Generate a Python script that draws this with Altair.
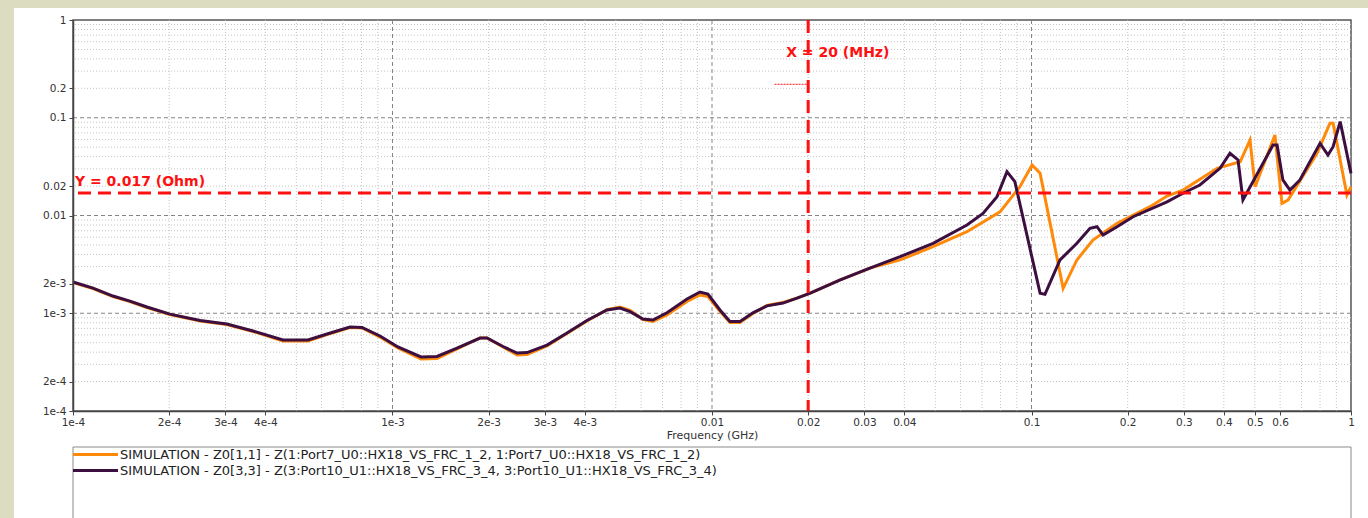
import altair as alt
import pandas as pd

# ---- impedance curves (frequency in GHz, |Z| in Ohm) ----
freq_low = [1.0e-4, 1.155e-4, 1.334e-4, 1.507e-4, 1.704e-4, 2.01e-4, 2.50e-4, 3.03e-4,
            3.66e-4, 4.54e-4, 5.44e-4, 6.24e-4, 7.36e-4, 8.03e-4, 9.14e-4, 1.04e-3,
            1.228e-3, 1.378e-3, 1.592e-3, 1.879e-3, 1.976e-3, 2.218e-3, 2.454e-3, 2.636e-3,
            3.045e-3, 3.516e-3, 4.06e-3, 4.69e-3, 5.15e-3, 5.54e-3, 6.08e-3, 6.53e-3,
            7.23e-3, 8.35e-3, 9.17e-3, 9.71e-3, 1.059e-2, 1.138e-2, 1.224e-2, 1.343e-2,
            1.486e-2, 1.668e-2, 1.845e-2, 2.03e-2, 2.52e-2, 3.12e-2]

z11_low = [2.06e-3, 1.79e-3, 1.48e-3, 1.32e-3, 1.145e-3, 9.7e-4, 8.33e-4, 7.67e-4,
           6.51e-4, 5.20e-4, 5.20e-4, 6.06e-4, 7.15e-4, 7.06e-4, 5.71e-4, 4.41e-4,
           3.40e-4, 3.44e-4, 4.31e-4, 5.58e-4, 5.58e-4, 4.52e-4, 3.74e-4, 3.78e-4,
           4.62e-4, 6.21e-4, 8.33e-4, 1.09e-3, 1.16e-3, 1.07e-3, 8.63e-4, 8.23e-4,
           9.6e-4, 1.32e-3, 1.54e-3, 1.48e-3, 1.05e-3, 8.04e-4, 8.04e-4, 9.94e-4,
           1.20e-3, 1.29e-3, 1.43e-3, 1.61e-3, 2.19e-3, 2.90e-3]

z33_low = [2.09e-3, 1.81e-3, 1.50e-3, 1.33e-3, 1.16e-3, 9.8e-4, 8.43e-4, 7.76e-4,
           6.58e-4, 5.33e-4, 5.33e-4, 6.14e-4, 7.23e-4, 7.16e-4, 5.85e-4, 4.52e-4,
           3.57e-4, 3.61e-4, 4.41e-4, 5.58e-4, 5.58e-4, 4.57e-4, 3.92e-4, 3.96e-4,
           4.73e-4, 6.28e-4, 8.43e-4, 1.08e-3, 1.13e-3, 1.04e-3, 8.73e-4, 8.53e-4,
           1.01e-3, 1.40e-3, 1.65e-3, 1.57e-3, 1.08e-3, 8.24e-4, 8.24e-4, 1.01e-3,
           1.19e-3, 1.27e-3, 1.43e-3, 1.61e-3, 2.19e-3, 2.90e-3]

freq11_high = [3.88e-2, 4.92e-2, 6.28e-2, 7.97e-2, 9.20e-2, 0.1004, 0.1064, 0.1256,
               0.1387, 0.1557, 0.1853, 0.235, 0.2655, 0.298, 0.381, 0.450, 0.483,
               0.501, 0.578, 0.608, 0.635, 0.783, 0.859, 0.879, 0.971, 1.0]
z11_high = [3.51e-3, 4.80e-3, 6.83e-3, 1.09e-2, 1.97e-2, 3.29e-2, 2.70e-2, 1.80e-3,
            3.51e-3, 5.61e-3, 8.32e-3, 1.23e-2, 1.58e-2, 1.82e-2, 3.04e-2, 3.55e-2, 5.92e-2,
            1.97e-2, 6.66e-2, 1.33e-2, 1.44e-2, 4.33e-2, 8.77e-2, 8.77e-2, 1.62e-2, 1.97e-2]

freq33_high = [3.88e-2, 4.92e-2, 6.28e-2, 7.05e-2, 7.80e-2, 8.38e-2, 8.87e-2, 0.1064,
               0.1102, 0.1228, 0.1387, 0.1524, 0.1603, 0.1675, 0.1853, 0.208, 0.2655,
               0.298, 0.3365, 0.389, 0.418, 0.443, 0.459, 0.570, 0.587, 0.612, 0.644,
               0.692, 0.800, 0.847, 0.879, 0.925, 1.0]
z33_high = [3.79e-3, 5.19e-3, 8.0e-3, 1.05e-2, 1.56e-2, 2.81e-2, 2.22e-2, 1.60e-3,
            1.56e-3, 3.51e-3, 5.19e-3, 7.40e-3, 7.68e-3, 6.31e-3, 7.68e-3, 9.72e-3, 1.38e-2,
            1.69e-2, 2.05e-2, 3.04e-2, 4.33e-2, 3.70e-2, 1.44e-2, 5.26e-2, 5.26e-2, 2.31e-2,
            1.82e-2, 2.31e-2, 5.48e-2, 4.16e-2, 5.06e-2, 9.12e-2, 2.70e-2]

series_names = [
    "SIMULATION - Z0[1,1] - Z(1:Port7_U0::HX18_VS_FRC_1_2, 1:Port7_U0::HX18_VS_FRC_1_2)",
    "SIMULATION - Z0[3,3] - Z(3:Port10_U1::HX18_VS_FRC_3_4, 3:Port10_U1::HX18_VS_FRC_3_4)",
]
series_colors = ["#ff8a0a", "#3d0f40"]

# ---- axes ----
x_ticks = [1e-4, 2e-4, 3e-4, 4e-4, 1e-3, 2e-3, 3e-3, 4e-3, 0.01, 0.02, 0.03, 0.04,
           0.1, 0.2, 0.3, 0.4, 0.5, 0.6, 1]
y_ticks = [1e-4, 2e-4, 1e-3, 2e-3, 0.01, 0.02, 0.1, 0.2, 1]
decades = [1e-4, 1e-3, 1e-2, 1e-1, 1]
minor_steps = [2, 3, 4, 5, 6, 7, 8, 9]

# ---- markers ----
marker_x = [0.02]           # 20 MHz
marker_y = [0.017]          # Ohm
marker_x_label = ["X = 20 (MHz)"]
marker_y_label = ["Y = 0.017 (Ohm)"]
marker_x_label_y = [0.42]
cursor_seg = [0.0157, 0.0199, 0.22]

FONT = "DejaVu Sans"
W, H = 1278, 391

df11 = pd.DataFrame({"f": freq_low + freq11_high, "z": z11_low + z11_high,
                     "series": series_names[0]})
df33 = pd.DataFrame({"f": freq_low + freq33_high, "z": z33_low + z33_high,
                     "series": series_names[1]})

minor = [round(m * d, 6) for d in decades[:-1] for m in minor_steps]
df_minor = pd.DataFrame({"v": minor})
df_major = pd.DataFrame({"v": decades[1:-1]})

label_expr = "datum.value < 0.005 ? format(datum.value, '~e') : format(datum.value, '~g')"

xscale = alt.Scale(type="log", domain=[1e-4, 1], nice=False)
yscale = alt.Scale(type="log", domain=[1e-4, 1], nice=False)

x_axis = alt.Axis(values=x_ticks, labelExpr=label_expr, title="Frequency (GHz)", grid=False,
                  labelFlush=False, labelOverlap=False, tickSize=4, tickColor="#444",
                  domainColor="#444", domainWidth=1.5, labelFont=FONT, labelFontSize=10.5,
                  labelColor="#333", labelPadding=2, titleFont=FONT, titleFontSize=11,
                  titleFontWeight="normal", titleColor="#333", titlePadding=2, zindex=2)
y_axis = alt.Axis(values=y_ticks, labelExpr=label_expr, title=None, grid=False,
                  labelFlush=False, labelOverlap=False, tickSize=4, tickColor="#444",
                  domainColor="#444", domainWidth=1.5, labelFont=FONT, labelFontSize=10.5,
                  labelColor="#333", labelPadding=3, zindex=2)

one = pd.DataFrame({"k": [0]})

# beige page margins (left and top) around the white sheet
page_left = alt.Chart(one).mark_rect(fill="#dcdcc0").encode(
    x=alt.value(-73), x2=alt.value(-59), y=alt.value(-20), y2=alt.value(H + 110))
page_top = alt.Chart(one).mark_rect(fill="#dcdcc0").encode(
    x=alt.value(-73), x2=alt.value(W + 17), y=alt.value(-20), y2=alt.value(-12))

# legend frame below the plot
legend_frame = alt.Chart(one).mark_rect(fill="white", stroke="#8a8a8a", strokeWidth=1).encode(
    x=alt.value(0), x2=alt.value(W), y=alt.value(427), y2=alt.value(H + 120))

grid_x_minor = alt.Chart(df_minor).mark_rule(stroke="#c4c4c4", strokeDash=[1, 2], strokeWidth=1).encode(
    x=alt.X("v:Q", scale=xscale, axis=x_axis))
grid_y_minor = alt.Chart(df_minor).mark_rule(stroke="#c4c4c4", strokeDash=[1, 2], strokeWidth=1).encode(
    y=alt.Y("v:Q", scale=yscale, axis=y_axis))
grid_x_major = alt.Chart(df_major).mark_rule(stroke="#858585", strokeDash=[4, 3], strokeWidth=1).encode(
    x=alt.X("v:Q", scale=xscale))
grid_y_major = alt.Chart(df_major).mark_rule(stroke="#858585", strokeDash=[4, 3], strokeWidth=1).encode(
    y=alt.Y("v:Q", scale=yscale))

color = alt.Color(
    "series:N",
    scale=alt.Scale(domain=series_names, range=series_colors),
    legend=alt.Legend(orient="none", legendX=16, legendY=428, title=None,
                      symbolType="M-15,0H15", symbolSize=9, symbolStrokeWidth=3,
                      labelOffset=18, labelFont=FONT, labelFontSize=13, labelColor="#222",
                      labelLimit=1200, rowPadding=2, padding=0),
)

line11 = alt.Chart(df11).mark_line(strokeWidth=3).encode(
    x=alt.X("f:Q", scale=xscale), y=alt.Y("z:Q", scale=yscale), color=color)
line33 = alt.Chart(df33).mark_line(strokeWidth=3).encode(
    x=alt.X("f:Q", scale=xscale), y=alt.Y("z:Q", scale=yscale), color=color)

df_mx = pd.DataFrame({"x": marker_x, "ly": marker_x_label_y, "t": marker_x_label})
df_my = pd.DataFrame({"y": marker_y, "lx": [1e-4], "t": marker_y_label})

vline = alt.Chart(df_mx).mark_rule(color="#ff1010", strokeWidth=3, strokeDash=[13, 7]).encode(
    x=alt.X("x:Q", scale=xscale))
hline = alt.Chart(df_my).mark_rule(color="#ff1010", strokeWidth=3, strokeDash=[13, 7]).encode(
    y=alt.Y("y:Q", scale=yscale))

vlabel = alt.Chart(df_mx).mark_text(align="left", baseline="alphabetic", dx=-22, color="#ff1010",
                                    font=FONT, fontSize=14, fontWeight="bold").encode(
    x=alt.X("x:Q", scale=xscale), y=alt.Y("ly:Q", scale=yscale), text="t:N")
hlabel = alt.Chart(df_my).mark_text(align="left", baseline="alphabetic", dx=2, dy=-7, color="#ff1010",
                                    font=FONT, fontSize=14, fontWeight="bold").encode(
    x=alt.X("lx:Q", scale=xscale), y=alt.Y("y:Q", scale=yscale), text="t:N")

df_seg = pd.DataFrame({"x": [cursor_seg[0]], "x2": [cursor_seg[1]], "y": [cursor_seg[2]]})
cursor = alt.Chart(df_seg).mark_rule(color="#ff1010", strokeWidth=1, strokeDash=[2, 1]).encode(
    x=alt.X("x:Q", scale=xscale), x2="x2:Q", y=alt.Y("y:Q", scale=yscale))

chart = alt.layer(
    page_left, page_top, legend_frame, grid_x_minor, grid_y_minor, grid_x_major, grid_y_major,
    line11, line33, hline, vline, cursor, hlabel, vlabel,
).properties(
    width=W, height=H,
    padding={"left": 73, "top": 20, "right": 17, "bottom": 107},
    autosize=alt.AutoSizeParams(type="none"),
    background="white",
).configure_view(stroke="#555", strokeWidth=1.5)

chart.save("out.html", embed_options={"renderer": "svg", "actions": False})
